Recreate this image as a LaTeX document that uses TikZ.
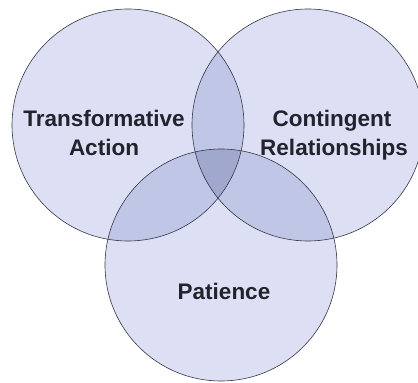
\documentclass[tikz,border=0pt]{standalone}
\usepackage{fontspec}
\setmainfont{Liberation Sans}
\definecolor{vennone}{RGB}{221,224,244}
\definecolor{venntwo}{RGB}{192,198,229}
\definecolor{vennthree}{RGB}{160,168,206}
\definecolor{vennline}{RGB}{55,55,70}
\definecolor{textcol}{RGB}{35,35,45}
\begin{document}
\begin{tikzpicture}[x=1pt,y=-1pt,
  venn/.style={circle, minimum size=232pt, inner sep=0pt, outer sep=0pt},
  vennfill/.style={fill=vennone},
  outline/.style={draw=vennline, line width=0.6pt},
  lbl/.style={font=\bfseries\fontsize{22.5}{29}\selectfont, text=textcol, anchor=base, inner sep=0pt}]
\useasboundingbox (0,0) rectangle (418,383);
\node[venn, vennfill] (L) at (128,125) {};
\node[venn, vennfill] (R) at (308,125) {};
\node[venn, vennfill] (B) at (221,265) {};
\begin{scope}
  \clip (L.center) circle (116pt);
  \fill[venntwo] (R.center) circle (116pt);
  \fill[venntwo] (B.center) circle (116pt);
\end{scope}
\begin{scope}
  \clip (R.center) circle (116pt);
  \fill[venntwo] (B.center) circle (116pt);
\end{scope}
\begin{scope}
  \clip (L.center) circle (116pt);
  \clip (R.center) circle (116pt);
  \fill[vennthree] (B.center) circle (116pt);
\end{scope}
\draw[outline] (L.center) circle (116pt);
\draw[outline] (R.center) circle (116pt);
\draw[outline] (B.center) circle (116pt);
\node[lbl] (t1) at (104,126) {Transformative};
\node[lbl] (t2) at (104,155) {Action};
\node[lbl] (c1) at (332,126) {Contingent};
\node[lbl] (c2) at (334,155) {Relationships};
\node[lbl] (p1) at (224,299) {Patience};
\end{tikzpicture}
\end{document}
